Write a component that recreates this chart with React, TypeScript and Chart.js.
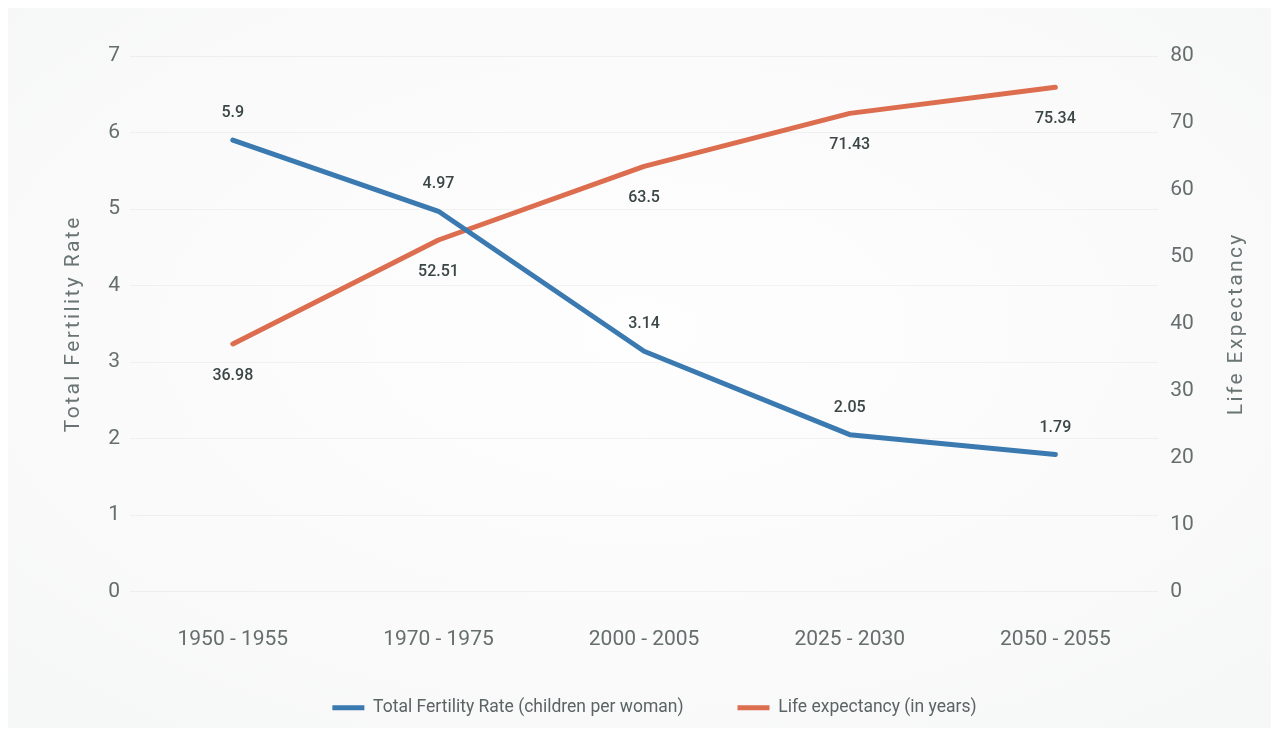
import { useEffect, useRef } from "react";
import { Chart, registerables } from "chart.js";

Chart.register(...registerables);

// Periods on the x axis and the two series plotted against them
const periods = ["1950 - 1955", "1970 - 1975", "2000 - 2005", "2025 - 2030", "2050 - 2055"];
const fertilityRate = [5.9, 4.97, 3.14, 2.05, 1.79];
const lifeExpectancy = [36.98, 52.51, 63.5, 71.43, 75.34];

// Axis ranges
const fertilityAxis = { min: 0, max: 7, step: 1 };
const lifeAxis = { min: 0, max: 80, step: 10 };

const FONT = "Roboto, 'Noto Sans', 'Liberation Sans', sans-serif";
const BLUE = "#3a7ab0";
const ORANGE = "#dc6e4f";
const TICK_COLOR = "#656d6d";

// Value labels: fertility above its points, life expectancy below
const valueLabels = {
  id: "valueLabels",
  afterDatasetsDraw(chart: any) {
    const { ctx } = chart;
    const shifts = [-27, 32];
    ctx.save();
    ctx.font = `500 16px ${FONT}`;
    ctx.fillStyle = "#3b4646";
    ctx.textAlign = "center";
    ctx.textBaseline = "middle";
    chart.data.datasets.forEach((ds: any, i: number) => {
      const meta = chart.getDatasetMeta(i);
      meta.data.forEach((pt: any, j: number) => {
        ctx.fillText(String(ds.data[j]), pt.x, pt.y + shifts[i]);
      });
    });
    ctx.restore();
  },
};

// Both axis titles read bottom-to-top with a little letter spacing
const sideTitles = {
  id: "sideTitles",
  beforeDraw(chart: any) {
    ["y", "y1"].forEach((id) => {
      const scale = chart.scales[id];
      if (!scale || scale.__customTitle) return;
      scale.__customTitle = true;
      scale.drawTitle = function () {
        const opts = this.options.title;
        if (!opts.display) return;
        const c = this.ctx;
        const area = this.chart.chartArea;
        const x = this.position === "left" ? area.left - 56 : area.right + 79;
        const y = (area.top + area.bottom) / 2;
        c.save();
        c.translate(x, y);
        c.rotate(-Math.PI / 2);
        c.font = `400 ${opts.font.size}px ${FONT}`;
        c.fillStyle = opts.color;
        c.textAlign = "center";
        c.textBaseline = "middle";
        (c as any).letterSpacing = "2.4px";
        c.fillText(opts.text, 0, 0);
        c.restore();
      };
    });
  },
};

export default function App() {
  const canvasRef = useRef<HTMLCanvasElement | null>(null);

  useEffect(() => {
    if (!canvasRef.current) return;
    const chart = new Chart(canvasRef.current, {
      type: "line",
      data: {
        labels: periods,
        datasets: [
          {
            label: "Total Fertility Rate (children per woman)",
            data: fertilityRate,
            borderColor: BLUE,
            backgroundColor: BLUE,
            borderWidth: 5,
            borderCapStyle: "round",
            borderJoinStyle: "round",
            pointRadius: 0,
            tension: 0,
            yAxisID: "y",
          },
          {
            label: "Life expectancy (in years)",
            data: lifeExpectancy,
            borderColor: ORANGE,
            backgroundColor: ORANGE,
            borderWidth: 5,
            borderCapStyle: "round",
            borderJoinStyle: "round",
            pointRadius: 0,
            tension: 0,
            yAxisID: "y1",
          },
        ],
      },
      options: {
        animation: false,
        responsive: true,
        maintainAspectRatio: false,
        layout: { padding: { top: 48, left: 41, right: 11, bottom: 1.5 } },
        plugins: {
          tooltip: { enabled: false },
          legend: {
            position: "bottom",
            labels: {
              usePointStyle: true,
              pointStyle: "line",
              pointStyleWidth: 32,
              padding: 54,
              color: "#5b6464",
              font: { family: FONT, size: 17.5 },
            },
          },
        },
        scales: {
          x: {
            offset: true,
            grid: { display: false },
            border: { display: false },
            ticks: { color: TICK_COLOR, padding: 28, font: { family: FONT, size: 21 } },
            afterFit(scale: any) {
              scale.height = 53.5;
            },
          },
          y: {
            position: "left",
            min: fertilityAxis.min,
            max: fertilityAxis.max,
            ticks: {
              stepSize: fertilityAxis.step,
              color: TICK_COLOR,
              padding: 10,
              font: { family: FONT, size: 21 },
            },
            grid: { color: "rgba(0,0,0,0.045)", drawTicks: false },
            border: { display: false },
            title: {
              display: true,
              text: "Total Fertility Rate",
              color: "#6a7474",
              font: { family: FONT, size: 21 },
              padding: { top: 0, bottom: 24 },
            },
          },
          y1: {
            position: "right",
            min: lifeAxis.min,
            max: lifeAxis.max,
            ticks: {
              stepSize: lifeAxis.step,
              color: TICK_COLOR,
              padding: 12,
              font: { family: FONT, size: 21 },
            },
            grid: { drawOnChartArea: false, drawTicks: false },
            border: { display: false },
            title: {
              display: true,
              text: "Life Expectancy",
              color: "#6a7474",
              font: { family: FONT, size: 21 },
              padding: { top: 0, bottom: 29 },
            },
          },
        },
      },
      plugins: [valueLabels, sideTitles],
    } as any);
    return () => chart.destroy();
  }, []);

  return (
    <div
      style={{
        position: "relative",
        height: 720,
        background:
          "radial-gradient(ellipse 80% 80% at 50% 45%, #fefefe 0%, #fafafa 55%, #f5f6f6 100%)",
      }}
    >
      <canvas ref={canvasRef} />
    </div>
  );
}
